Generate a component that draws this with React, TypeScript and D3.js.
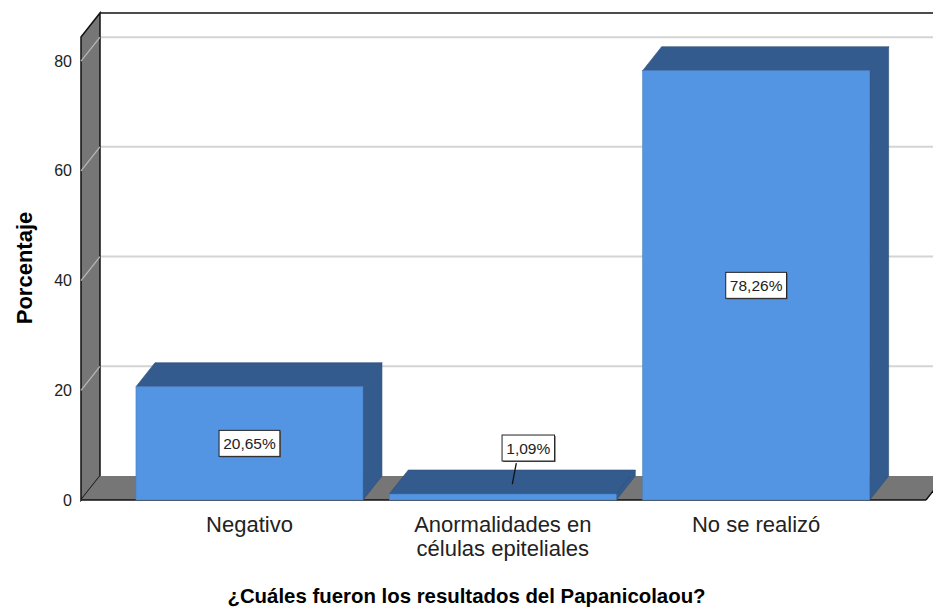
import * as d3 from "d3";
import React, { useRef, useEffect } from "react";

const categories = ["Negativo", "Anormalidades en|células epiteliales", "No se realizó"];
const values = [20.65, 1.09, 78.26];
const valueLabels = ["20,65%", "1,09%", "78,26%"];
const yTicks = [0, 20, 40, 60, 80];

const W = 933;
const H = 607;
const font = "'Liberation Sans', Arial, sans-serif";

function App() {
  const ref = useRef<SVGSVGElement>(null);

  useEffect(() => {
    const svg = d3.select(ref.current);
    svg.selectAll("*").remove();
    draw(svg);
  }, []);

  const draw = (svg: any) => {
    // depth offset of the 3d box
    const dx = 19, dy = -24;
    const x0 = 81, x1 = 926;
    const yScale = d3.scaleLinear().domain([0, 84.4]).range([500, 37]);
    const xScale = d3.scaleBand().domain(categories).range([122.8, 882.8])
      .paddingInner(0.104).paddingOuter(0.052);

    const pts = (a: number[][]) => a.map((p) => p.join(",")).join(" ");
    const y0 = yScale(0), yTop = yScale(84.4);

    // back wall
    svg.append("rect").attr("x", x0 + dx).attr("y", yTop + dy)
      .attr("width", W - x0 - dx + 5).attr("height", y0 - yTop).attr("fill", "#fff");

    // grid lines on back wall + left wall
    yTicks.filter((t) => t > 0).forEach((t) => {
      const y = yScale(t);
      svg.append("line").attr("x1", x0 + dx).attr("x2", W).attr("y1", y + dy).attr("y2", y + dy)
        .attr("stroke", "#d4d4d4").attr("stroke-width", 2);
    });

    // left wall
    svg.append("polygon")
      .attr("points", pts([[x0, yTop], [x0 + dx, yTop + dy], [x0 + dx, y0 + dy], [x0, y0]]))
      .attr("fill", "#767676").attr("stroke", "#111").attr("stroke-width", 1.5);
    yTicks.filter((t) => t > 0).forEach((t) => {
      const y = yScale(t);
      svg.append("line").attr("x1", x0).attr("y1", y).attr("x2", x0 + dx).attr("y2", y + dy)
        .attr("stroke", "#b8b8b8").attr("stroke-width", 1.2);
    });

    // top edge of back wall
    svg.append("line").attr("x1", x0 + dx).attr("x2", W).attr("y1", yTop + dy).attr("y2", yTop + dy)
      .attr("stroke", "#111").attr("stroke-width", 1.5);

    // floor
    svg.append("polygon")
      .attr("points", pts([[x0, y0], [x0 + dx, y0 + dy], [x1 + dx, y0 + dy], [x1, y0]]))
      .attr("fill", "#767676");
    svg.append("line").attr("x1", x0).attr("x2", x1).attr("y1", y0).attr("y2", y0)
      .attr("stroke", "#111").attr("stroke-width", 1.5);
    svg.append("line").attr("x1", x1).attr("x2", x1 + dx).attr("y1", y0).attr("y2", y0 + dy)
      .attr("stroke", "#111").attr("stroke-width", 1.5);

    // y tick labels
    svg.append("g").selectAll("text").data(yTicks).enter().append("text")
      .attr("x", 72).attr("y", (d: number) => yScale(d) + 5.5)
      .attr("text-anchor", "end").attr("font-family", font).attr("font-size", 16)
      .attr("fill", "#222").text((d: number) => d);

    // bars
    const bw = xScale.bandwidth();
    categories.forEach((c, i) => {
      const bx = xScale(c) as number;
      const by = yScale(values[i]);
      const g = svg.append("g");
      g.append("polygon")
        .attr("points", pts([[bx, by], [bx + dx, by + dy], [bx + bw + dx, by + dy], [bx + bw, by]]))
        .attr("fill", "#345b8d").attr("stroke", "#2c4d78").attr("stroke-width", 0.6);
      g.append("polygon")
        .attr("points", pts([[bx + bw, by], [bx + bw + dx, by + dy], [bx + bw + dx, y0 + dy], [bx + bw, y0]]))
        .attr("fill", "#345b8d").attr("stroke", "#2c4d78").attr("stroke-width", 0.6);
      g.append("rect").attr("x", bx).attr("y", by).attr("width", bw).attr("height", y0 - by)
        .attr("fill", "#5394e3").attr("stroke", "#4a7fc0").attr("stroke-width", 0.6);
    });

    // value labels
    categories.forEach((c, i) => {
      const cx = (xScale(c) as number) + bw / 2;
      const by = yScale(values[i]);
      let lx = cx, ly = (by + y0) / 2;
      const bh = 26;
      const bwid = valueLabels[i].length * 8.3 + 11;
      if (y0 - by < bh + 10) {
        // small bar: label above with leader line to the top face
        const tx = cx + dx / 2, ty = by + dy / 2;
        lx = tx + 16;
        ly = ty - 34;
        svg.append("line").attr("x1", tx).attr("y1", ty + 2).attr("x2", tx + 4).attr("y2", ly + bh / 2 + 2)
          .attr("stroke", "#111").attr("stroke-width", 1.3);
      }
      svg.append("rect").attr("x", lx - bwid / 2 + 1).attr("y", ly - bh / 2 + 1)
        .attr("width", bwid).attr("height", bh).attr("fill", "#555");
      svg.append("rect").attr("x", lx - bwid / 2).attr("y", ly - bh / 2)
        .attr("width", bwid).attr("height", bh).attr("fill", "#fff")
        .attr("stroke", "#222").attr("stroke-width", 1);
      svg.append("text").attr("x", lx).attr("y", ly + 5.5).attr("text-anchor", "middle")
        .attr("font-family", font).attr("font-size", 15.5).attr("fill", "#222").text(valueLabels[i]);
    });

    // category labels
    categories.forEach((c) => {
      const cx = (xScale(c) as number) + bw / 2;
      const t = svg.append("text").attr("text-anchor", "middle").attr("font-family", font)
        .attr("font-size", 22).attr("fill", "#222");
      c.split("|").forEach((line, k) => {
        t.append("tspan").attr("x", cx).attr("y", 532 + k * 24).text(line);
      });
    });

    // axis titles
    svg.append("text").attr("x", 466.5).attr("y", 603).attr("text-anchor", "middle")
      .attr("font-family", font).attr("font-size", 20.4).attr("font-weight", "bold").attr("fill", "#000")
      .text("¿Cuáles fueron los resultados del Papanicolaou?");

    svg.append("text").attr("text-anchor", "middle")
      .attr("transform", "translate(32,268)rotate(-90)")
      .attr("font-family", font).attr("font-size", 22).attr("font-weight", "bold").attr("fill", "#000")
      .text("Porcentaje");
  };

  return (
    <div style={{ position: "absolute", left: 0, top: 0 }}>
      <svg ref={ref} width={W} height={H} style={{ display: "block", background: "#fff" }}></svg>
    </div>
  );
}

export default App;
